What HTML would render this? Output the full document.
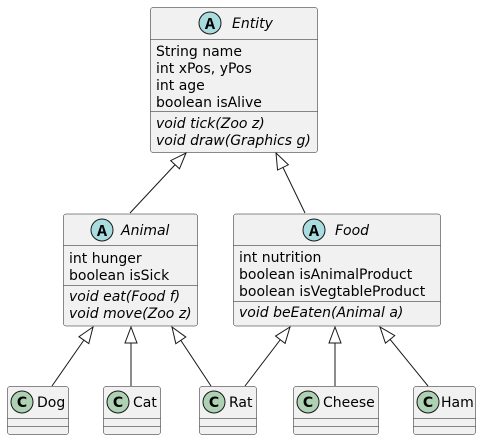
<!DOCTYPE html>
<html><head><meta charset="utf-8"><style>
html,body{margin:0;padding:0;background:#fff}
svg text{font-family:"DejaVu Sans","Liberation Sans",sans-serif;font-size:14px;fill:#000}
.i{font-style:italic}
.A{font-family:"Liberation Mono",monospace;font-weight:bold;font-size:17px}
.C{font-family:"DejaVu Sans",sans-serif;font-weight:bold;font-size:14px}
</style></head><body>
<svg width="483" height="440" viewBox="0 0 483 440" xmlns="http://www.w3.org/2000/svg">
<g stroke="#181818" stroke-width="1" fill="none">
<line x1="130" y1="213" x2="186" y2="153"/>
<line x1="305" y1="213" x2="276" y2="153"/>
<line x1="52" y1="386" x2="93" y2="327"/>
<line x1="131" y1="386" x2="131" y2="327"/>
<line x1="211" y1="386" x2="172" y2="327"/>
<line x1="245" y1="386" x2="290" y2="327"/>
<line x1="335" y1="386" x2="335" y2="327"/>
<line x1="428" y1="386" x2="380" y2="327"/>
</g>
<g id="arrows" stroke="#181818" fill="#fff"></g>
<g stroke="#181818" stroke-width="0.5" fill="#F1F1F1">
<rect x="150.5" y="7.5" width="167" height="145" rx="2.5"/>
<rect x="63.5" y="214" width="134" height="112" rx="2.5"/>
<rect x="233.5" y="214" width="207" height="112" rx="2.5"/>
<rect x="7.5" y="386.5" width="61" height="48" rx="2.5"/>
<rect x="103.5" y="386.5" width="57" height="48" rx="2.5"/>
<rect x="199.5" y="386.5" width="57" height="48" rx="2.5"/>
<rect x="293.5" y="386.5" width="85" height="48" rx="2.5"/>
<rect x="413.5" y="386.5" width="62" height="48" rx="2.5"/>
</g>
<g stroke="#181818" stroke-width="0.5">
<line x1="150.5" y1="39.5" x2="317.5" y2="39.5"/>
<line x1="150.5" y1="111.5" x2="317.5" y2="111.5"/>
<line x1="63.5" y1="245.5" x2="197.5" y2="245.5"/>
<line x1="63.5" y1="285.5" x2="197.5" y2="285.5"/>
<line x1="233.5" y1="245.5" x2="440.5" y2="245.5"/>
<line x1="233.5" y1="301.5" x2="440.5" y2="301.5"/>
<line x1="7.5" y1="418.5" x2="68.5" y2="418.5"/><line x1="7.5" y1="426.5" x2="68.5" y2="426.5"/>
<line x1="103.5" y1="418.5" x2="160.5" y2="418.5"/><line x1="103.5" y1="426.5" x2="160.5" y2="426.5"/>
<line x1="199.5" y1="418.5" x2="256.5" y2="418.5"/><line x1="199.5" y1="426.5" x2="256.5" y2="426.5"/>
<line x1="293.5" y1="418.5" x2="378.5" y2="418.5"/><line x1="293.5" y1="426.5" x2="378.5" y2="426.5"/>
<line x1="413.5" y1="418.5" x2="475.5" y2="418.5"/><line x1="413.5" y1="426.5" x2="475.5" y2="426.5"/>
</g>
<g stroke="#181818" stroke-width="1">
<circle cx="210" cy="23" r="11" fill="#A9DCDF"/>
<circle cx="102" cy="230" r="11" fill="#A9DCDF"/>
<circle cx="314" cy="230" r="11" fill="#A9DCDF"/>
<circle cx="22" cy="402" r="11" fill="#ADD1B2"/>
<circle cx="118" cy="402" r="11" fill="#ADD1B2"/>
<circle cx="214" cy="402" r="11" fill="#ADD1B2"/>
<circle cx="308" cy="402" r="11" fill="#ADD1B2"/>
<circle cx="428" cy="402" r="11" fill="#ADD1B2"/>
</g>
<g text-anchor="middle">
<text x="210" y="29" class="A">A</text>
<text x="102" y="236" class="A">A</text>
<text x="314" y="236" class="A">A</text>
<text x="22" y="407" class="C">C</text>
<text x="118" y="407" class="C">C</text>
<text x="214" y="407" class="C">C</text>
<text x="308" y="407" class="C">C</text>
<text x="428" y="407" class="C">C</text>
</g>
<text x="232" y="28" class="i">Entity</text>
<text x="156" y="56">String name</text>
<text x="156" y="73">int xPos, yPos</text>
<text x="156" y="90">int age</text>
<text x="156" y="107">boolean isAlive</text>
<text x="156" y="128" class="i">void tick(Zoo z)</text>
<text x="156" y="145" class="i">void draw(Graphics g)</text>

<text x="121" y="235" class="i">Animal</text>
<text x="69" y="263">int hunger</text>
<text x="69" y="280">boolean isSick</text>
<text x="69" y="301" class="i">void eat(Food f)</text>
<text x="69" y="318" class="i">void move(Zoo z)</text>

<text x="335" y="235" class="i">Food</text>
<text x="239" y="262">int nutrition</text>
<text x="239" y="279">boolean isAnimalProduct</text>
<text x="239" y="296">boolean isVegtableProduct</text>
<text x="239" y="317" class="i">void beEaten(Animal a)</text>

<text x="37" y="407">Dog</text>
<text x="133" y="407">Cat</text>
<text x="229" y="407">Rat</text>
<text x="323" y="407">Cheese</text>
<text x="441" y="407">Ham</text>
</svg>
<script>
var a=[[130,213,186,153],[305,213,276,153],[52,386,93,327],[131,386,131,327],[211,386,172,327],[245,386,290,327],[335,386,335,327],[428,386,380,327]];
var g=document.getElementById('arrows');
a.forEach(function(p){var dx=p[2]-p[0],dy=p[3]-p[1],l=Math.hypot(dx,dy),ux=dx/l,uy=dy/l,bx=p[2]-ux*16,by=p[3]-uy*16,w=6;
var pts=[p[2]+','+p[3],(bx-uy*w)+','+(by+ux*w),(bx+uy*w)+','+(by-ux*w)].join(' ');
var e=document.createElementNS('http://www.w3.org/2000/svg','polygon');e.setAttribute('points',pts);g.appendChild(e);});
</script>
</body></html>
